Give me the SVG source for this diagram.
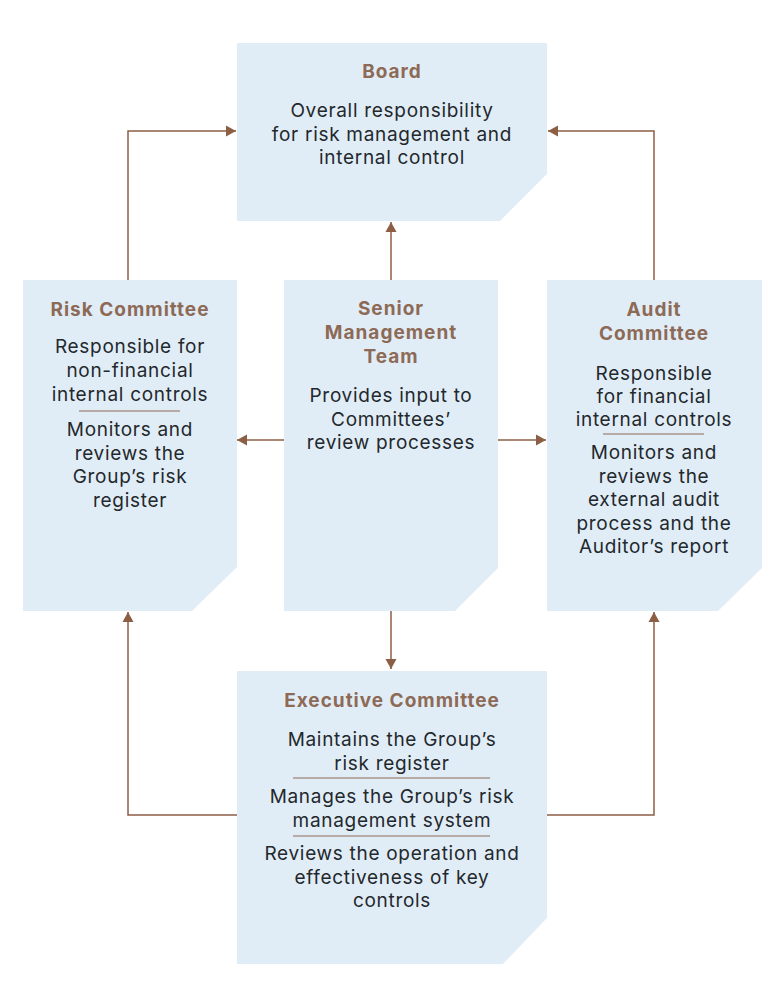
<svg xmlns="http://www.w3.org/2000/svg" width="780" height="994" viewBox="0 0 780 994">
<style>
.box{fill:#e1edf6}
.t{font-family:Inter,"Open Sans","Liberation Sans",sans-serif;font-weight:700;font-size:19px;letter-spacing:1px;fill:#8d6a56;text-anchor:middle}
.b{font-family:Inter,"Open Sans","Liberation Sans",sans-serif;font-size:19px;letter-spacing:0.7px;fill:#23282d;text-anchor:middle}
.div{stroke:#8d6a56;stroke-width:1.2}
.c{fill:none;stroke:#8c5f45;stroke-width:1.5}
</style>
<defs>
<marker id="ah" markerUnits="userSpaceOnUse" markerWidth="12" markerHeight="12" refX="10" refY="6" orient="auto">
<path d="M0,0.5 L10,6 L0,11.5 Z" fill="#8c5f45"/>
</marker>
</defs>
<rect width="780" height="994" fill="#ffffff"/>
<g id="connectors">
<path class="c" d="M128,280 V131 H236" marker-end="url(#ah)"/>
<path class="c" d="M654,280 V131 H548" marker-end="url(#ah)"/>
<path class="c" d="M391,280 V222" marker-end="url(#ah)"/>
<path class="c" d="M284,440 H237" marker-end="url(#ah)"/>
<path class="c" d="M498,440 H546" marker-end="url(#ah)"/>
<path class="c" d="M391,611 V669" marker-end="url(#ah)"/>
<path class="c" d="M237,815 H128 V612" marker-end="url(#ah)"/>
<path class="c" d="M547,815 H654 V612" marker-end="url(#ah)"/>
</g>
<g id="board">
<path class="box" d="M237,43 H547 V174 L500,221 H237 Z"/>
<text class="t" x="392" y="78">Board</text>
<text class="b" x="392" y="117">Overall responsibility<tspan x="392" dy="23.5">for risk management and</tspan><tspan x="392" dy="23.5">internal control</tspan></text>
</g>
<g id="risk-committee">
<path class="box" d="M23,280 H237 V567 L192,611 H23 Z"/>
<text class="t" x="130" y="316">Risk Committee</text>
<text class="b" x="130" y="353">Responsible for<tspan x="130" dy="24">non-financial</tspan><tspan x="130" dy="24">internal controls</tspan></text>
<line class="div" x1="79" y1="411" x2="180" y2="411"/>
<text class="b" x="130" y="436">Monitors and<tspan x="130" dy="23.7">reviews the</tspan><tspan x="130" dy="23.7">Group’s risk</tspan><tspan x="130" dy="23.7">register</tspan></text>
</g>
<g id="senior-management-team">
<path class="box" d="M284,280 H498 V568 L455,611 H284 Z"/>
<text class="t" x="391" y="315">Senior<tspan x="391" dy="24">Management</tspan><tspan x="391" dy="24">Team</tspan></text>
<text class="b" x="391" y="402">Provides input to<tspan x="391" dy="23.5">Committees’</tspan><tspan x="391" dy="23.5">review processes</tspan></text>
</g>
<g id="audit-committee">
<path class="box" d="M547,280 H762 V568 L718,611 H547 Z"/>
<text class="t" x="654" y="316">Audit<tspan x="654" dy="24">Committee</tspan></text>
<text class="b" x="654" y="380">Responsible<tspan x="654" dy="23">for financial</tspan><tspan x="654" dy="23">internal controls</tspan></text>
<line class="div" x1="603" y1="434" x2="704" y2="434"/>
<text class="b" x="654" y="459">Monitors and<tspan x="654" dy="23.5">reviews the</tspan><tspan x="654" dy="23.5">external audit</tspan><tspan x="654" dy="23.5">process and the</tspan><tspan x="654" dy="23.5">Auditor’s report</tspan></text>
</g>
<g id="executive-committee">
<path class="box" d="M237,671 H547 V918 L503,964 H237 Z"/>
<text class="t" x="392" y="707">Executive Committee</text>
<text class="b" x="392" y="746">Maintains the Group’s<tspan x="392" dy="23.5">risk register</tspan></text>
<line class="div" x1="293" y1="778" x2="490" y2="778"/>
<text class="b" x="392" y="803">Manages the Group’s risk<tspan x="392" dy="24">management system</tspan></text>
<line class="div" x1="293" y1="836" x2="490" y2="836"/>
<text class="b" x="392" y="860">Reviews the operation and<tspan x="392" dy="23.5">effectiveness of key</tspan><tspan x="392" dy="23.5">controls</tspan></text>
</g>
</svg>
